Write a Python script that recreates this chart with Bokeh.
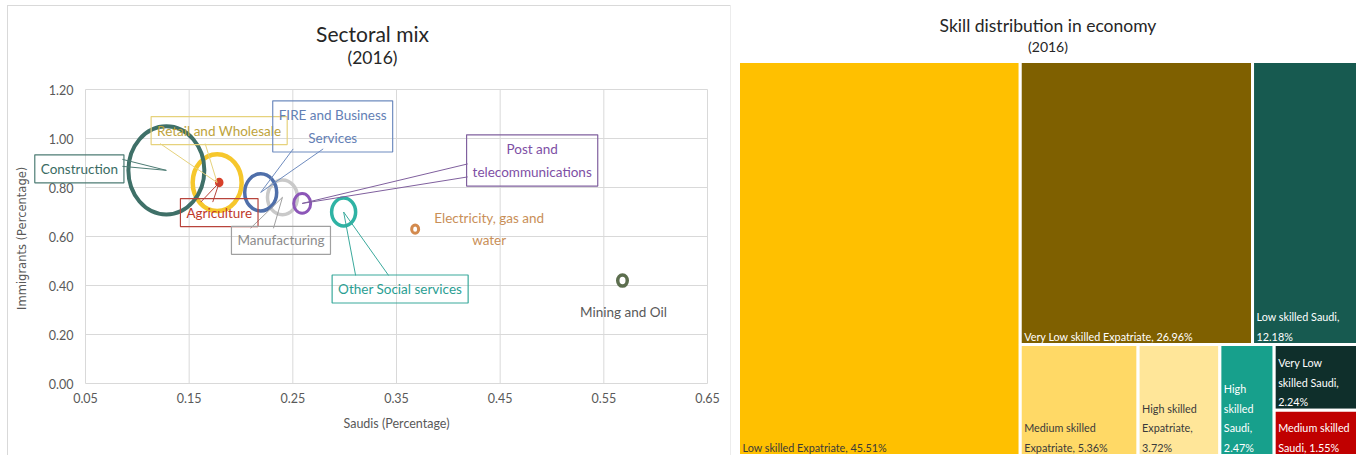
import math

from bokeh.core.properties import value
from bokeh.embed import file_html
from bokeh.layouts import row
from bokeh.models import ColumnDataSource, FixedTicker, Label, NumeralTickFormatter, Range1d
from bokeh.plotting import figure
from bokeh.resources import INLINE

# ---------------- Sectoral mix (2016) ----------------
sectors = ["Manufacturing", "Retail and Wholesale", "Construction", "FIRE and Business Services",
           "Post and telecommunications", "Other Social services", "Electricity, gas and water",
           "Mining and Oil", "Agriculture"]
saudi_share = [0.240, 0.177, 0.128, 0.219, 0.259, 0.299, 0.368, 0.568, 0.179]
immigrant_share = [0.76, 0.82, 0.87, 0.78, 0.735, 0.70, 0.63, 0.42, 0.82]
bubble_size = [4.05, 10.8, 26.0, 4.6, 1.3, 2.6, 0.22, 0.41, 0.14]

x_ticks = [0.05, 0.15, 0.25, 0.35, 0.45, 0.55, 0.65]
y_ticks = [0.0, 0.2, 0.4, 0.6, 0.8, 1.0, 1.2]

# ---------------- Skill distribution (2016) ----------------
skill_groups = ["Low skilled Expatriate", "Very Low skilled Expatriate", "Low skilled Saudi",
                "Medium skilled Expatriate", "High skilled Expatriate", "High skilled Saudi",
                "Very Low skilled Saudi", "Medium skilled Saudi"]
skill_shares = [45.51, 26.96, 12.18, 5.36, 3.72, 2.47, 2.24, 1.55]

FONT = "Lato"
AXIS_GREY = "#595959"
GRID = "#d9d9d9"

# styling per sector
sector_style = {
    "Construction": dict(ring="#3f7068", text="#3a6b63", box="#4d7c74", lw=4),
    "Retail and Wholesale": dict(ring="#f6c72c", text="#bea33c", box="#e6d27c", lw=4.5),
    "Agriculture": dict(ring="#d8402a", text="#c0392b", box="#b8443c", lw=3),
    "FIRE and Business Services": dict(ring="#4f6faa", text="#6380b5", box="#6f8cbf", lw=3.5),
    "Manufacturing": dict(ring="#c9c9c9", text="#8c8c8c", box="#a0a0a0", lw=3.5),
    "Post and telecommunications": dict(ring="#8c56b8", text="#7e4fa5", box="#80609e", lw=3),
    "Other Social services": dict(ring="#2fb3a4", text="#2a9e92", box="#3aa99c", lw=3.5),
    "Electricity, gas and water": dict(ring="#d38a4e", text="#c98f58", box=None, lw=3),
    "Mining and Oil": dict(ring="#5c6e4e", text="#595959", box=None, lw=3.5),
}

# callout boxes: box centre offset from the bubble (px, y down) and wedge base points
# relative to the box centre
callouts = {
    "Construction": dict(text="Construction", box=(-87, -1.5), base=[(43, -9.5), (43, -2.5)]),
    "Retail and Wholesale": dict(text="Retail and Wholesale", box=(2, -52), base=[(-59, 13), (-14, 13)]),
    "Agriculture": dict(text="Agriculture", box=(0, 30), base=[(-18.5, -10.5), (-6.5, -10.5)]),
    "FIRE and Business Services": dict(text="FIRE and Business\nServices", box=(72, -66),
                                       base=[(-39.5, 22.5), (-9.5, 22.5)]),
    "Manufacturing": dict(text="Manufacturing", box=(-1.5, 43), base=[(-30.5, -12), (-7.5, -12)]),
    "Post and telecommunications": dict(text="Post and\ntelecommunications", box=(230, -43),
                                        base=[(-64.5, 3.5), (-64.5, 16.5)]),
    "Other Social services": dict(text="Other Social services", box=(56.5, 77),
                                  base=[(-44.5, -13.5), (-11.5, -13.5)]),
}
plain_labels = {
    "Electricity, gas and water": dict(text="Electricity, gas and\nwater", off=(74, 0)),
    "Mining and Oil": dict(text="Mining and Oil", off=(1, 31)),
}

# ---------------- left: bubble chart ----------------
# The plot frame fills the whole canvas so that titles and callouts can sit anywhere;
# the axes are pinned to the edges of the 0.05..0.65 x 0..1.2 region.
X0, X1, Y0, Y1 = 0.05, 0.65, 0.0, 1.2
DATA_W, DATA_H = 622, 294            # pixel size of the data region
PAD_L, PAD_R, PAD_T, PAD_B = 77, 23, 83, 72
px_x = (X1 - X0) / DATA_W
px_y = (Y1 - Y0) / DATA_H

left = figure(width=722, height=449,
              x_range=Range1d(X0 - PAD_L * px_x, X1 + PAD_R * px_x),
              y_range=Range1d(Y0 - PAD_B * px_y, Y1 + PAD_T * px_y),
              output_backend="svg", toolbar_location=None, title=None,
              min_border_left=0, min_border_right=0, min_border_top=0, min_border_bottom=0,
              margin=(6, 0, 0, 8), styles={"outline": "1px solid #d9d9d9"})
left.outline_line_color = None
left.background_fill_color = "white"
left.grid.visible = False

# gridlines limited to the data region
left.segment(x0=x_ticks, y0=[Y0] * len(x_ticks), x1=x_ticks, y1=[Y1] * len(x_ticks),
             line_color=GRID, line_width=1)
left.segment(x0=[X0] * len(y_ticks), y0=y_ticks, x1=[X1] * len(y_ticks), y1=y_ticks,
             line_color=GRID, line_width=1)

left.xaxis.fixed_location = Y0
left.yaxis.fixed_location = X0
left.xaxis.bounds = (X0, X1)
left.yaxis.bounds = (Y0, Y1)
left.xaxis.ticker = FixedTicker(ticks=x_ticks)
left.yaxis.ticker = FixedTicker(ticks=y_ticks)
left.axis.formatter = NumeralTickFormatter(format="0.00")
for ax in left.axis:
    ax.axis_line_color = None
    ax.major_tick_line_color = None
    ax.minor_tick_line_color = None
    ax.major_tick_out = 0
    ax.major_tick_in = 0
    ax.major_label_text_font = FONT
    ax.major_label_text_font_size = "12.5px"
    ax.major_label_text_color = AXIS_GREY
    ax.axis_label_text_font_style = "normal"
    ax.axis_label_text_color = AXIS_GREY
left.xaxis.axis_label = "Saudis (Percentage)"
left.yaxis.axis_label = "Immigrants  (Percentage)"
left.xaxis.axis_label_text_font = FONT
left.xaxis.axis_label_text_font_size = "12.5px"
left.yaxis.axis_label_text_font = "DejaVu Sans"
left.yaxis.axis_label_text_font_size = "11.5px"
left.xaxis.major_label_standoff = 9
left.yaxis.major_label_standoff = 12
left.xaxis.axis_label_standoff = 10
left.yaxis.axis_label_standoff = 17

# bubbles
radii = [7.45 * math.sqrt(s) for s in bubble_size]
bubbles = ColumnDataSource(dict(
    x=saudi_share, y=immigrant_share,
    w=[2 * r for r in radii], h=[2 * r * 1.16 for r in radii],
    color=[sector_style[s]["ring"] for s in sectors],
    lw=[sector_style[s]["lw"] for s in sectors],
    fa=[1.0 if s == "Agriculture" else 0.0 for s in sectors],
))
left.ellipse(x="x", y="y", width="w", height="h", width_units="screen", height_units="screen",
             source=bubbles, fill_color="color", fill_alpha="fa", line_color="color", line_width="lw")

# callouts
for name, c in callouts.items():
    i = sectors.index(name)
    bx, by = saudi_share[i], immigrant_share[i]
    st = sector_style[name]
    ox, oy = c["box"]
    (ax1, ay1), (ax2, ay2) = c["base"]
    xs = [bx + (ox + ax1) * px_x, bx, bx + (ox + ax2) * px_x]
    ys = [by - (oy + ay1) * px_y, by, by - (oy + ay2) * px_y]
    left.line(xs, ys, line_color=st["box"], line_width=1)
    left.add_layout(Label(x=bx, y=by, x_offset=ox, y_offset=-oy, text=c["text"],
                          text_font=FONT, text_font_size="13.5px", text_color=st["text"],
                          text_align="center", text_baseline="middle", text_line_height=1.45,
                          border_line_color=st["box"], border_line_width=1.2,
                          background_fill_color=None, padding=6))

for name, c in plain_labels.items():
    i = sectors.index(name)
    ox, oy = c["off"]
    left.add_layout(Label(x=saudi_share[i], y=immigrant_share[i], x_offset=ox, y_offset=-oy,
                          text=c["text"], text_font=FONT, text_font_size="13.5px",
                          text_color=sector_style[name]["text"], text_align="center",
                          text_baseline="middle", text_line_height=1.4))


def frame_xy(px, py):
    # page pixel -> data coordinates of the bubble chart
    return X0 + (px - 85) * px_x, Y0 + (383 - py) * px_y


tx, ty = frame_xy(372, 33)
left.add_layout(Label(x=tx, y=ty, text="Sectoral mix", text_font=FONT, text_font_size="21px",
                      text_color="#262626", text_align="center", text_baseline="middle"))
tx, ty = frame_xy(372, 57)
left.add_layout(Label(x=tx, y=ty, text="(2016)", text_font=FONT, text_font_size="17.5px",
                      text_color="#262626", text_align="center", text_baseline="middle"))

# ---------------- right: treemap ----------------
TW, TH = 619, 394          # treemap area in px
T_L, T_T = 8, 61           # its offset inside the canvas
right = figure(width=629, height=455, x_range=Range1d(-T_L, 629 - T_L),
               y_range=Range1d(TH, -T_T),
               output_backend="svg", toolbar_location=None, title=None,
               x_axis_location=None, y_axis_location=None,
               min_border_left=0, min_border_right=0, min_border_top=0, min_border_bottom=0)
right.outline_line_color = None
right.grid.visible = False

tile_colors = ["#FFC000", "#7F6000", "#175A50", "#FFD966", "#FFE699", "#17A08C", "#0F2F2B", "#C00000"]
tile_text = ["#3a3a3a", "white", "white", "#3a3a3a", "#3a3a3a", "white", "white", "white"]

# nested slicing: "h" places children side by side, "v" stacks them top to bottom
layout_tree = ("h", [0, ("v", [("h", [1, 2]), ("h", [3, 4, 5, ("v", [6, 7])])])])


def node_total(node):
    if isinstance(node, int):
        return skill_shares[node]
    return sum(node_total(c) for c in node[1])


def place(node, x0, y0, x1, y1, out):
    if isinstance(node, int):
        out[node] = (x0, y0, x1, y1)
        return
    direction, children = node
    totals = [node_total(c) for c in children]
    s = sum(totals)
    pos = x0 if direction == "h" else y0
    for c, t in zip(children, totals):
        if direction == "h":
            w = (x1 - x0) * t / s
            place(c, pos, y0, pos + w, y1, out)
            pos += w
        else:
            h = (y1 - y0) * t / s
            place(c, x0, pos, x1, pos + h, out)
            pos += h


rects = {}
place(layout_tree, 0, 0, TW, TH, rects)
order = list(range(len(skill_shares)))

right.quad(left=[rects[i][0] for i in order], right=[rects[i][2] for i in order],
           top=[rects[i][1] for i in order], bottom=[rects[i][3] for i in order],
           fill_color=tile_colors, line_color="white", line_width=3)

LABEL_SIZE = 10.8
CHAR_W = 5.14 * LABEL_SIZE / 10.8


def wrap(text, width):
    lines, cur = [], ""
    for word in text.split():
        trial = word if not cur else cur + " " + word
        if len(trial) * CHAR_W <= width or not cur:
            cur = trial
        else:
            lines.append(cur)
            cur = word
    lines.append(cur)
    return "\n".join(lines)


labels = [wrap(f"{g}, {v:.2f}%", rects[i][2] - rects[i][0] - 8)
          for i, (g, v) in enumerate(zip(skill_groups, skill_shares))]
right.text(x=[rects[i][0] + 4 for i in order], y=[rects[i][3] - 2 for i in order], text=labels,
           text_font=value(FONT), text_font_size=f"{LABEL_SIZE}px", text_color=tile_text,
           text_align="left", text_baseline="bottom", text_line_height=1.5)

right.add_layout(Label(x=TW / 2, y=-36, text="Skill distribution in economy", text_font=FONT,
                       text_font_size="17.5px", text_color="#262626", text_align="center",
                       text_baseline="middle"))
right.add_layout(Label(x=TW / 2, y=-15, text="(2016)", text_font=FONT, text_font_size="14px",
                       text_color="#262626", text_align="center", text_baseline="middle"))

page = row(left, right)
open("out.html", "w").write(file_html(page, INLINE))
